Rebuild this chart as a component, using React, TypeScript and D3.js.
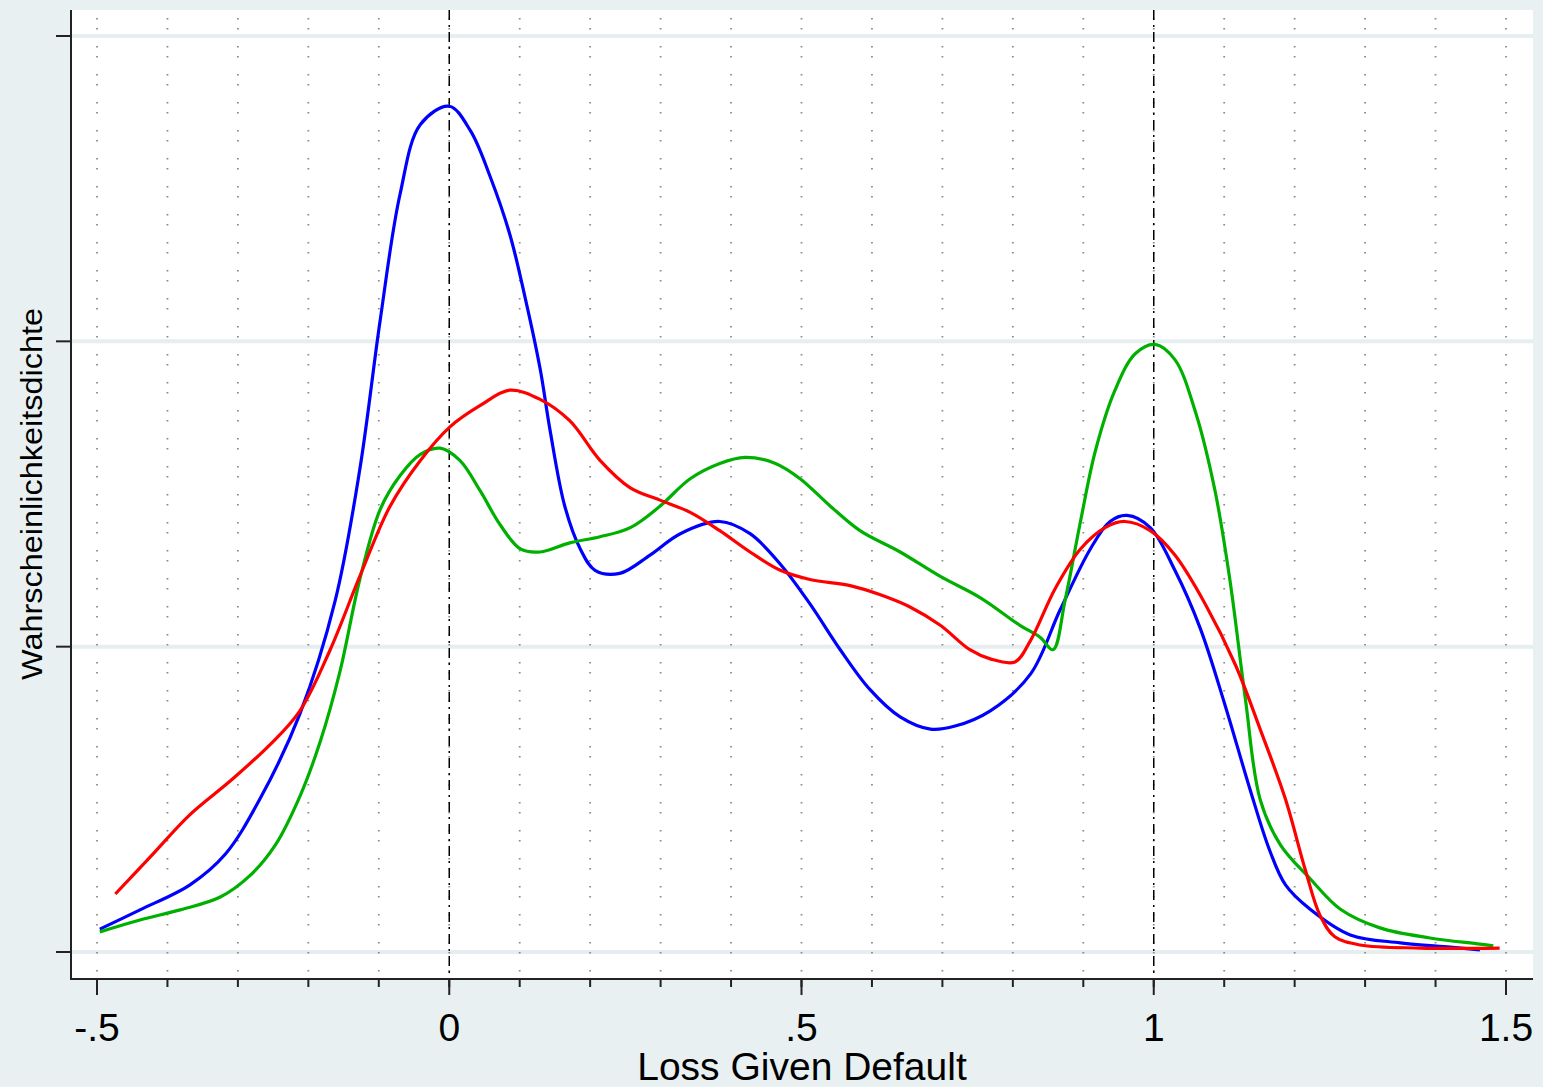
import * as d3 from "d3";

// kernel density estimates
const blueX = [-0.496, -0.439, -0.368, -0.318, -0.269, -0.212, -0.162, -0.127, -0.098, -0.07, -0.041, 0.0, 0.03, 0.058, 0.086, 0.108, 0.129, 0.143, 0.164, 0.186, 0.207, 0.242, 0.285, 0.328, 0.384, 0.427, 0.47, 0.512, 0.555, 0.597, 0.64, 0.683, 0.718, 0.768, 0.825, 0.867, 0.91, 0.938, 0.962, 0.995, 1.03, 1.066, 1.101, 1.137, 1.165, 1.187, 1.222, 1.279, 1.35, 1.421, 1.463];
const blueY = [0.075, 0.138, 0.22, 0.32, 0.5, 0.78, 1.15, 1.58, 2.07, 2.48, 2.71, 2.77, 2.69, 2.54, 2.35, 2.14, 1.91, 1.71, 1.46, 1.32, 1.25, 1.24, 1.3, 1.37, 1.41, 1.37, 1.27, 1.14, 0.99, 0.86, 0.77, 0.73, 0.74, 0.79, 0.91, 1.12, 1.32, 1.41, 1.43, 1.39, 1.25, 1.06, 0.81, 0.53, 0.33, 0.22, 0.14, 0.056, 0.03, 0.016, 0.007];

const greenX = [-0.496, -0.439, -0.382, -0.325, -0.283, -0.247, -0.212, -0.183, -0.155, -0.127, -0.098, -0.07, -0.041, -0.013, 0.015, 0.044, 0.072, 0.101, 0.129, 0.171, 0.214, 0.257, 0.299, 0.342, 0.384, 0.42, 0.463, 0.498, 0.541, 0.583, 0.64, 0.697, 0.754, 0.81, 0.839, 0.857, 0.874, 0.896, 0.917, 0.945, 0.974, 1.002, 1.03, 1.059, 1.087, 1.108, 1.13, 1.151, 1.18, 1.222, 1.265, 1.321, 1.392, 1.463, 1.482];
const greenY = [0.066, 0.105, 0.138, 0.18, 0.25, 0.35, 0.51, 0.69, 0.92, 1.22, 1.45, 1.56, 1.63, 1.65, 1.61, 1.51, 1.4, 1.32, 1.31, 1.34, 1.36, 1.39, 1.46, 1.55, 1.6, 1.62, 1.6, 1.55, 1.46, 1.38, 1.31, 1.23, 1.16, 1.07, 1.03, 0.99, 1.15, 1.41, 1.64, 1.84, 1.96, 1.99, 1.94, 1.77, 1.51, 1.22, 0.83, 0.5, 0.35, 0.24, 0.14, 0.079, 0.046, 0.026, 0.02];

const redX = [-0.474, -0.425, -0.368, -0.311, -0.254, -0.212, -0.169, -0.127, -0.084, -0.041, 0.001, 0.044, 0.086, 0.129, 0.171, 0.214, 0.257, 0.299, 0.342, 0.384, 0.427, 0.47, 0.512, 0.569, 0.612, 0.654, 0.697, 0.739, 0.768, 0.803, 0.825, 0.86, 0.896, 0.931, 0.959, 0.995, 1.03, 1.073, 1.116, 1.151, 1.187, 1.215, 1.236, 1.257, 1.293, 1.378, 1.491];
const redY = [0.19, 0.31, 0.45, 0.56, 0.68, 0.79, 0.99, 1.23, 1.46, 1.61, 1.72, 1.79, 1.84, 1.81, 1.74, 1.61, 1.52, 1.48, 1.44, 1.38, 1.31, 1.25, 1.22, 1.2, 1.17, 1.13, 1.07, 0.99, 0.96, 0.95, 1.02, 1.19, 1.32, 1.39, 1.41, 1.38, 1.3, 1.14, 0.94, 0.73, 0.5, 0.27, 0.12, 0.05, 0.023, 0.013, 0.013];

const xMajor = [-0.5, 0, 0.5, 1, 1.5];
const xLabels = ["-.5", "0", ".5", "1", "1.5"];
const xMinor = d3.range(-5, 16).map((i) => i / 10);
const yMajor = [0, 1, 2, 3];
const refLines = [0, 1];

const series = [
  { name: "blue", xs: blueX, ys: blueY, color: "#0000ff" },
  { name: "green", xs: greenX, ys: greenY, color: "#00b000" },
  { name: "red", xs: redX, ys: redY, color: "#ff0000" },
];

const width = 1543;
const height = 1087;
const left = 72;
const right = 1533;
const top = 10;
const bottom = 979;
const font = "'Liberation Sans', Arial, sans-serif";

export default function App() {
  const x = d3.scaleLinear().domain([-0.5, 1.5]).range([97, 1506]);
  const y = d3.scaleLinear().domain([0, 3]).range([952, 36]);

  const line = d3
    .line<[number, number]>()
    .x((d) => x(d[0]))
    .y((d) => y(d[1]))
    .curve(d3.curveCatmullRom);

  return (
    <svg
      width={width}
      height={height}
      style={{ position: "absolute", left: 0, top: 0, display: "block" }}
    >
      <rect width={width} height={height} fill="#e9f0f2" />
      <rect x={left} y={top} width={right - left} height={bottom - top} fill="#ffffff" />

      {yMajor.map((v) => (
        <line key={"hg" + v} x1={left} x2={right} y1={y(v)} y2={y(v)} stroke="#e6eef0" strokeWidth={4} />
      ))}

      {xMinor.map((v) => (
        <line
          key={"vg" + v}
          x1={x(v)}
          x2={x(v)}
          y1={top + 8}
          y2={bottom}
          stroke="#8a8a8a"
          strokeWidth={1.8}
          strokeDasharray="1.5 8.5 1.5 16.5"
        />
      ))}

      {refLines.map((v) => (
        <line
          key={"ref" + v}
          x1={x(v)}
          x2={x(v)}
          y1={top}
          y2={bottom}
          stroke="#000"
          strokeWidth={1.5}
          strokeDasharray="10 5 2 5"
        />
      ))}

      {series.map((s) => (
        <path
          key={s.name}
          d={line(s.xs.map((v, i) => [v, s.ys[i]] as [number, number])) || undefined}
          fill="none"
          stroke={s.color}
          strokeWidth={3.2}
          strokeLinejoin="round"
        />
      ))}

      {/* axes */}
      <line x1={left - 1} x2={left - 1} y1={top} y2={bottom + 1} stroke="#222" strokeWidth={2} />
      <line x1={left - 1} x2={right} y1={bottom} y2={bottom} stroke="#222" strokeWidth={2} />

      {yMajor.map((v) => (
        <line key={"yt" + v} x1={56} x2={left} y1={y(v)} y2={y(v)} stroke="#222" strokeWidth={2} />
      ))}
      {xMinor.map((v) => (
        <line key={"xm" + v} x1={x(v)} x2={x(v)} y1={bottom} y2={bottom + 8} stroke="#222" strokeWidth={2} />
      ))}
      {xMajor.map((v, i) => (
        <g key={"xt" + v}>
          <line x1={x(v)} x2={x(v)} y1={bottom} y2={bottom + 16} stroke="#222" strokeWidth={2} />
          <text
            x={x(v)}
            y={1041}
            textAnchor="middle"
            fontFamily={font}
            fontSize={39}
            fill="#000"
          >
            {xLabels[i]}
          </text>
        </g>
      ))}

      <text x={802} y={1080} textAnchor="middle" fontFamily={font} fontSize={39} fill="#000">
        Loss Given Default
      </text>
      <text
        transform="translate(42,494) rotate(-90)"
        textAnchor="middle"
        fontFamily={font}
        fontSize={30}
        textLength={372}
        lengthAdjust="spacingAndGlyphs"
        fill="#000"
      >
        Wahrscheinlichkeitsdichte
      </text>
    </svg>
  );
}
